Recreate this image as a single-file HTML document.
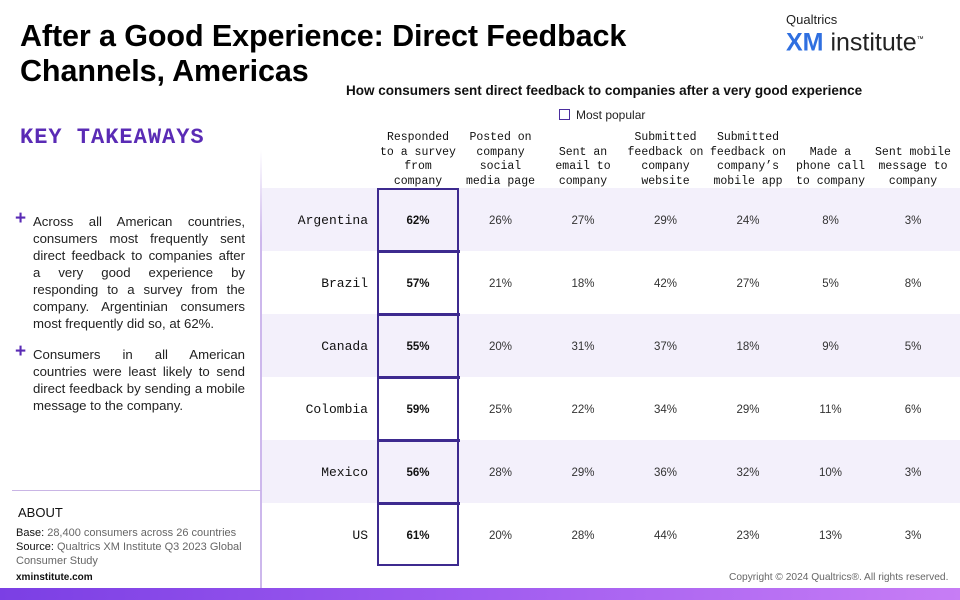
<!DOCTYPE html>
<html><head><meta charset="utf-8"><style>
body{margin:0;width:960px;height:600px;position:relative;background:#fff;font-family:"Liberation Sans",sans-serif;overflow:hidden}
.abs{position:absolute}
.mono{font-family:"Liberation Mono",monospace}
.tk{position:absolute;left:33px;width:212px;font-size:13.2px;line-height:17px;color:#222;text-align:justify}
.plus{position:absolute;left:15px;color:#5a2bb5;font-size:19px;font-weight:bold}
.hd{position:absolute;width:84px;text-align:center;font-size:11.5px;line-height:14.5px;color:#111}
.cell{position:absolute;width:82px;text-align:center;font-size:11.5px;color:#333}
</style></head><body>
<div class="abs" style="left:20px;top:19px;font-size:30.5px;font-weight:bold;line-height:35px;color:#000;letter-spacing:-0.1px">After a Good Experience: Direct Feedback<br>Channels, Americas</div>
<div class="abs" style="left:786px;top:12px;width:170px">
 <div style="font-size:13px;color:#222">Qualtrics</div>
 <div style="font-size:25px;line-height:26px;color:#222"><b style="color:#2f6fe0">XM</b> institute<sup style="font-size:7px">™</sup></div>
</div>
<div class="abs" style="left:346px;top:83px;font-size:13.5px;font-weight:bold;color:#111">How consumers sent direct feedback to companies after a very good experience</div>
<div class="abs" style="left:559px;top:108px;font-size:12px;color:#222"><span style="display:inline-block;width:9px;height:9px;border:1.5px solid #4b2e9e;vertical-align:-1px;margin-right:6px"></span>Most popular</div>
<div class="abs mono" style="left:20px;top:125px;font-size:22px;font-weight:bold;color:#5a2bb5;letter-spacing:1px">KEY TAKEAWAYS</div>
<div class="plus" style="top:208px">+</div>
<div class="tk" style="top:213px">Across all American countries, consumers most frequently sent direct feedback to companies after a very good experience by responding to a survey from the company. Argentinian consumers most frequently did so, at 62%.</div>
<div class="plus" style="top:341px">+</div>
<div class="tk" style="top:346px">Consumers in all American countries were least likely to send direct feedback by sending a mobile message to the company.</div>
<div class="abs" style="left:260px;top:150px;width:2px;height:440px;background:linear-gradient(#fff,#cdb8ec 20%,#cdb8ec)"></div>
<div class="abs" style="left:12px;top:490px;width:249px;height:1px;background:#c9b5e5"></div>
<div class="abs" style="left:18px;top:505px;font-size:13px;color:#111">ABOUT</div>
<div class="abs" style="left:16px;top:526px;width:245px;font-size:11px;line-height:14px;color:#666"><span style="color:#111">Base:</span> 28,400 consumers across 26 countries<br><span style="color:#111">Source:</span> Qualtrics XM Institute Q3 2023 Global Consumer Study</div>
<div class="abs" style="left:16px;top:572px;font-size:10px;font-weight:bold;color:#111">xminstitute.com</div>
<div class="abs" style="left:729px;top:572px;font-size:10.2px;color:#666">Copyright © 2024 Qualtrics®. All rights reserved.</div>
<div class="abs" style="left:0;top:588px;width:960px;height:12px;background:linear-gradient(90deg,#7b3fe4,#a05cf0,#c77df5)"></div>
<div id="tbl"></div>
<script>
const columns=["Responded to a survey from company","Posted on company social media page","Sent an email to company","Submitted feedback on company website","Submitted feedback on company’s mobile app","Made a phone call to company","Sent mobile message to company"];
const headerLines=[["Responded","to a survey","from","company"],["Posted on","company","social","media page"],["Sent an","email to","company"],["Submitted","feedback on","company","website"],["Submitted","feedback on","company’s","mobile app"],["Made a","phone call","to company"],["Sent mobile","message to","company"]];
const countries=["Argentina","Brazil","Canada","Colombia","Mexico","US"];
const values=[
[62,26,27,29,24,8,3],
[57,21,18,42,27,5,8],
[55,20,31,37,18,9,5],
[59,25,22,34,29,11,6],
[56,28,29,36,32,10,3],
[61,20,28,44,23,13,3]];
const tbl=document.getElementById('tbl');
const x0=418,dx=82.5,y0=188,rh=63;
const colX=i=>x0+i*dx, rowY=j=>y0+j*rh;
function mk(cls,style,text){const d=document.createElement('div');d.className=cls;d.style.cssText=style;if(text!==undefined)d.textContent=text;tbl.appendChild(d);return d;}
countries.forEach((c,j)=>{
 const band=mk('abs',`left:262px;top:${rowY(j)}px;width:698px;height:${rh}px;background:${j%2==0?'#f3f0fb':'#fff'}`);
 
 
 const lab=mk('abs mono',`left:262px;width:106px;text-align:right;top:${rowY(j)+25}px;font-size:13px;color:#111`,c);
 
 
 values[j].forEach((v,i)=>{
  const cl=mk('cell',`left:${colX(i)-41}px;top:${rowY(j)+27}px;${i==0?'font-weight:bold;color:#111':''}`,v+'%');
  
  
 });
});
headerLines.forEach((ls,i)=>{
 const h=mk('hd mono',`left:${colX(i)-42}px;top:${188+1-ls.length*14.5}px`);
 h.innerHTML=ls.join('<br>');
 
 
});
const box=mk('abs',`left:${colX(0)-41}px;top:${y0}px;width:78px;height:${rh*countries.length-4}px;border:2.5px solid #3d2a8f`);


for(let j=1;j<countries.length;j++){
 const s=mk('abs',`left:${colX(0)-41}px;top:${rowY(j)-1}px;width:83px;height:2.5px;background:#3d2a8f`);
 
 
}
</script>
</body></html>
